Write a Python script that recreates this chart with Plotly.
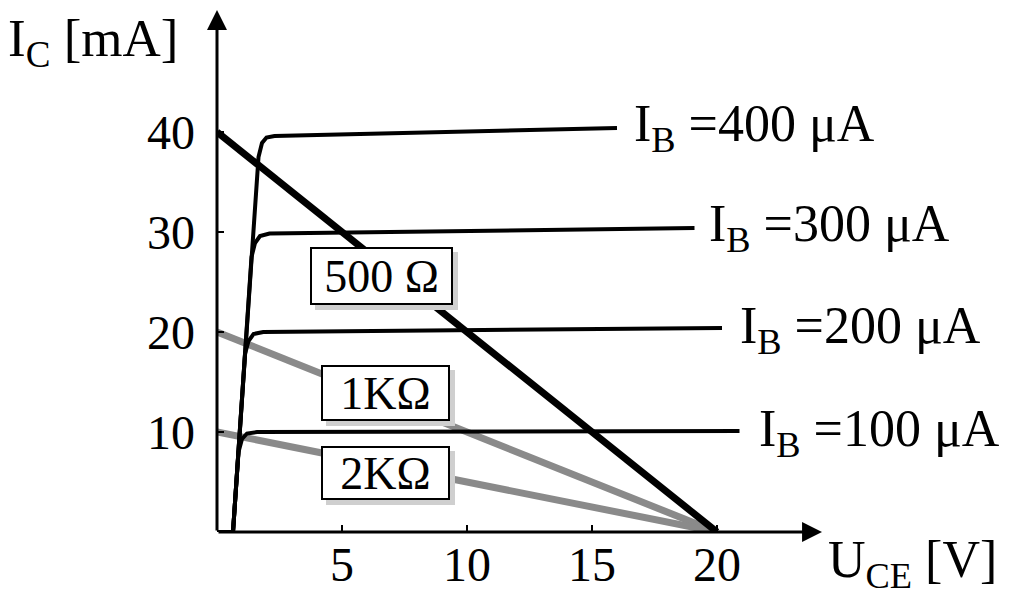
import plotly.graph_objects as go

# ---- data ----
x_ticks = [5, 10, 15, 20]
y_ticks = [10, 20, 30, 40]

ib_labels = ["I<sub>B</sub> =400 μA", "I<sub>B</sub> =300 μA",
             "I<sub>B</sub> =200 μA", "I<sub>B</sub> =100 μA"]
ib_400_x = [0, 0.64, 1.66, 1.80, 1.98, 2.3, 16.0]
ib_400_y = [0, 0, 37.5, 38.9, 39.45, 39.6, 40.4]
ib_300_x = [0, 0.64, 1.38, 1.52, 1.72, 2.1, 19.1]
ib_300_y = [0, 0, 27.5, 28.9, 29.6, 29.85, 30.4]
ib_200_x = [0, 0.64, 1.12, 1.26, 1.46, 1.85, 20.2]
ib_200_y = [0, 0, 17.8, 19.1, 19.8, 20.0, 20.4]
ib_100_x = [0, 0.64, 0.86, 1.0, 1.2, 1.6, 20.9]
ib_100_y = [0, 0, 8.0, 9.3, 9.85, 10.0, 10.1]

load_names = ["500 Ω", "1KΩ", "2KΩ"]
load_500_x = [0, 20]
load_500_y = [40, 0]
load_1k_x = [0, 20]
load_1k_y = [20, 0]
load_2k_x = [0, 20]
load_2k_y = [10, 0]

FONT = "Liberation Serif"
GRAY = "#8a8a8a"

fig = go.Figure()

# gray load lines (below)
for xs, ys in [(load_1k_x, load_1k_y), (load_2k_x, load_2k_y)]:
    fig.add_trace(go.Scatter(x=xs, y=ys, mode="lines",
                             line=dict(color=GRAY, width=7), cliponaxis=False,
                             hoverinfo="skip"))

# IB characteristic curves
for xs, ys in [(ib_400_x, ib_400_y), (ib_300_x, ib_300_y),
               (ib_200_x, ib_200_y), (ib_100_x, ib_100_y)]:
    fig.add_trace(go.Scatter(x=xs, y=ys, mode="lines",
                             line=dict(color="black", width=4), cliponaxis=False,
                             hoverinfo="skip"))

# 500 ohm load line
fig.add_trace(go.Scatter(x=load_500_x, y=load_500_y, mode="lines",
                         line=dict(color="black", width=7), cliponaxis=False,
                         hoverinfo="skip"))

annotations = []

# axes with arrows
annotations.append(dict(x=24.2, y=0, ax=0, ay=0, xref="x", yref="y", axref="x", ayref="y",
                        showarrow=True, arrowhead=2, arrowsize=1.33, arrowwidth=3,
                        arrowcolor="black", text=""))
annotations.append(dict(x=0, y=52.2, ax=0, ay=0, xref="x", yref="y", axref="x", ayref="y",
                        showarrow=True, arrowhead=2, arrowsize=1.33, arrowwidth=3,
                        arrowcolor="black", text=""))

# IB labels
ib_pos = [(16.6, 40.5), (19.6, 30.5), (20.84, 20.3), (21.6, 10.0)]
for txt, (lx, ly) in zip(ib_labels, ib_pos):
    annotations.append(dict(x=lx, y=ly, xref="x", yref="y", text=txt, showarrow=False,
                            xanchor="left", yanchor="middle",
                            font=dict(family=FONT, size=52, color="black")))

# load line boxed labels with shadow
box_pos = [(6.58, 25.6, 135, 50), (6.72, 13.9, 121, 48), (6.72, 5.9, 121, 46)]
for txt, (bx, by, bw, bh) in zip(load_names, box_pos):
    annotations.append(dict(x=bx, y=by, xref="x", yref="y", text=txt, showarrow=False,
                            xshift=5, yshift=-5, width=bw, height=bh,
                            bgcolor="#cfcfcf", bordercolor="#cfcfcf", borderwidth=2, borderpad=2,
                            font=dict(family=FONT, size=46, color="#cfcfcf")))
    annotations.append(dict(x=bx, y=by, xref="x", yref="y", text=txt, showarrow=False,
                            width=bw, height=bh,
                            bgcolor="white", bordercolor="black", borderwidth=2, borderpad=2,
                            font=dict(family=FONT, size=46, color="black")))

# axis titles (paper coordinates)
annotations.append(dict(x=-0.337, y=0.935, xref="paper", yref="paper", text="I<sub>C</sub> [mA]",
                        showarrow=False, xanchor="left", yanchor="middle",
                        font=dict(family=FONT, size=53, color="black")))
annotations.append(dict(x=0.975, y=-0.061, xref="paper", yref="paper", text="U<sub>CE</sub> [V]",
                        showarrow=False, xanchor="left", yanchor="middle",
                        font=dict(family=FONT, size=52, color="black")))

fig.update_layout(
    width=1003, height=583,
    margin=dict(l=209, r=169, t=0, b=59, autoexpand=False),
    paper_bgcolor="white", plot_bgcolor="white",
    showlegend=False,
    annotations=annotations,
    xaxis=dict(range=[0, 25], tickvals=x_ticks, ticktext=[str(v) for v in x_ticks],
               showgrid=False, zeroline=False, showline=False, automargin=False,
               ticks="inside", ticklen=7, tickwidth=2, tickcolor="black",
               tickfont=dict(family=FONT, size=48, color="black"), ticklabelstandoff=0),
    yaxis=dict(range=[0, 52.4], tickvals=y_ticks, ticktext=[str(v) for v in y_ticks],
               showgrid=False, zeroline=False, showline=False, automargin=False,
               ticks="inside", ticklen=7, tickwidth=2, tickcolor="black",
               tickfont=dict(family=FONT, size=48, color="black"), ticklabelstandoff=21),
)

fig.write_html("out.html")
